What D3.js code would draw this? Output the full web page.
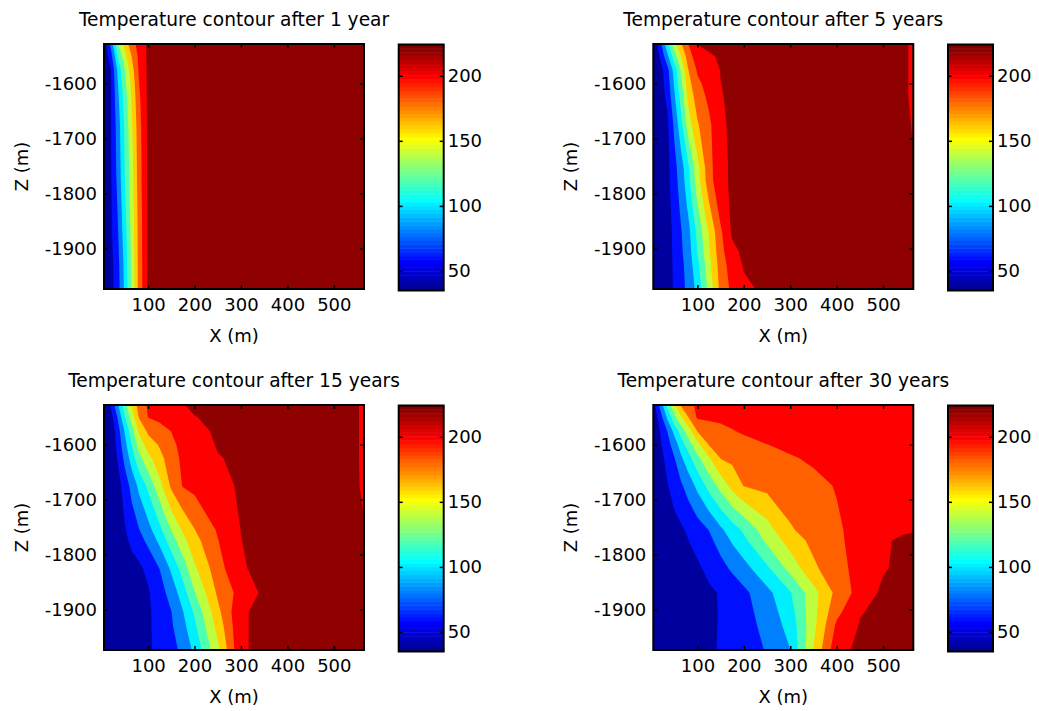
<!DOCTYPE html>
<html>
<head>
<meta charset="utf-8">
<script src="https://cdnjs.cloudflare.com/ajax/libs/d3/7.8.5/d3.min.js"></script>
<style>
  body { margin: 0; background: #fff; }
  svg { display: block; font-family: "DejaVu Sans", sans-serif; }
</style>
</head>
<body>
<div id="wrapper"></div>
<script>
// grid nodes (m)
const xNodes = [5, 20, 35, 50, 65, 80, 100, 125, 150, 175, 200, 250, 300, 350, 400, 450, 500, 540, 565]
const zNodes = [-1528, -1550, -1576, -1600, -1625, -1675, -1755, -1775, -1825, -1870, -1905, -1930, -1974]

const levels = [40, 60, 80, 100, 120, 140, 160, 180, 200, 220]
const cRange = [35, 224]

// temperature rows, top to bottom
const temp1 = [
  [48, 86, 139, 168, 193, 206, 224, 224, 224, 224, 224, 224, 224, 224, 224, 224, 224, 224, 224],
  [46, 72, 122, 154, 181, 204, 224, 224, 224, 224, 224, 224, 224, 224, 224, 224, 224, 224, 224],
  [45, 59.5, 105, 140, 172, 202, 224, 224, 224, 224, 224, 224, 224, 224, 224, 224, 224, 224, 224],
  [45, 59.5, 100, 135, 166, 199, 224, 224, 224, 224, 224, 224, 224, 224, 224, 224, 224, 224, 224],
  [45, 59.5, 96, 130, 163, 196, 224, 224, 224, 224, 224, 224, 224, 224, 224, 224, 224, 224, 224],
  [45, 59.5, 90, 124, 158, 192, 224, 224, 224, 224, 224, 224, 224, 224, 224, 224, 224, 224, 224],
  [45, 58.5, 87, 121, 153, 190, 224, 224, 224, 224, 224, 224, 224, 224, 224, 224, 224, 224, 224],
  [45, 58, 86, 120, 152, 190, 224, 224, 224, 224, 224, 224, 224, 224, 224, 224, 224, 224, 224],
  [45, 57, 82, 116, 150, 188, 224, 224, 224, 224, 224, 224, 224, 224, 224, 224, 224, 224, 224],
  [45, 56, 79, 112, 148, 187, 224, 224, 224, 224, 224, 224, 224, 224, 224, 224, 224, 224, 224],
  [45, 55, 76, 109, 146, 187, 224, 224, 224, 224, 224, 224, 224, 224, 224, 224, 224, 224, 224],
  [45, 54, 74, 107, 145, 186, 224, 224, 224, 224, 224, 224, 224, 224, 224, 224, 224, 224, 224],
  [45, 53, 72, 105, 144, 186, 224, 224, 224, 224, 224, 224, 224, 224, 224, 224, 224, 224, 224]
]

const temp5 = [
  [42, 73.6, 113.7, 151.8, 178.4, 199.4, 220.5, 224, 224, 224, 224, 224, 224, 224, 224, 224, 224, 224, 217],
  [42, 63, 94, 131, 161, 190, 212, 218, 222, 224, 224, 224, 224, 224, 224, 224, 224, 224, 217],
  [42, 52, 72.2, 107.8, 142.4, 178.9, 202.4, 211.2, 220.5, 224, 224, 224, 224, 224, 224, 224, 224, 224, 217],
  [42, 51, 68, 102, 135, 172, 196, 207, 219.8, 224, 224, 224, 224, 224, 224, 224, 224, 224, 217],
  [42, 50, 64, 96, 128, 164, 190, 204, 218.5, 224, 224, 224, 224, 224, 224, 224, 224, 224, 217],
  [42, 48, 55.7, 83.7, 114.3, 149.2, 177.7, 196.1, 216, 224, 224, 224, 224, 224, 224, 224, 224, 224, 219],
  [42, 46.5, 53.5, 73, 91, 115, 153, 193, 214.5, 223, 224, 224, 224, 224, 224, 224, 224, 224, 221],
  [42, 46, 53, 71.8, 89.7, 113, 151.5, 192.2, 214.5, 223.2, 224, 224, 224, 224, 224, 224, 224, 224, 222],
  [42, 45.5, 52, 68, 84, 103, 138, 177, 208, 224, 224, 224, 224, 224, 224, 224, 224, 224, 224],
  [42, 45, 51, 64.6, 79, 93, 125.1, 162.2, 196.9, 223, 224, 224, 224, 224, 224, 224, 224, 224, 224],
  [42, 45, 51, 63.8, 77, 90.5, 120.5, 158, 193.4, 215.6, 223.6, 224, 224, 224, 224, 224, 224, 224, 224],
  [42, 44.5, 50.5, 63, 75, 88, 114.3, 153.3, 190, 209.6, 221.8, 224, 224, 224, 224, 224, 224, 224, 224],
  [42, 44, 50, 62.5, 73.4, 85.2, 106.2, 147.1, 186.1, 204.9, 216, 224, 224, 224, 224, 224, 224, 224, 224]
]

const temp15 = [
  [42, 63.9, 97.5, 132.8, 160.8, 189.1, 202.3, 207.8, 213.4, 219, 224, 224, 224, 224, 224, 224, 224, 224, 217],
  [42, 52.7, 83, 119.3, 150, 181.1, 200.6, 205.3, 210, 214.7, 219.4, 224, 224, 224, 224, 224, 224, 224, 217],
  [42, 44, 71.7, 102.1, 132.4, 162.1, 183.8, 192.1, 200.3, 206.2, 212.1, 224, 224, 224, 224, 224, 224, 224, 217],
  [42, 44.9, 66.9, 93.9, 121, 147.7, 169, 182.5, 196.2, 205, 210.4, 221.5, 224, 224, 224, 224, 224, 224, 217],
  [42, 46, 62.1, 85.7, 109.6, 133.3, 154.2, 173, 192, 203.8, 208.8, 218.9, 223.3, 224, 224, 224, 224, 224, 217],
  [42, 48, 52.5, 69.3, 86.8, 104.5, 124.5, 153.9, 183.8, 201.3, 205.4, 213.8, 222.5, 224, 224, 224, 224, 224, 217.5],
  [42, 45.9, 49.1, 58.5, 68.9, 78.8, 93, 115, 141.4, 163.2, 179.5, 202.2, 220.4, 224, 224, 224, 224, 224, 221],
  [42, 45.3, 48.2, 55.8, 64.3, 72.2, 84.8, 105, 130.5, 153.4, 172.9, 199.2, 219.8, 224, 224, 224, 224, 224, 222],
  [42, 44, 46, 49, 53, 56, 65, 80.6, 103.8, 129.5, 156.6, 191.9, 218.5, 224, 224, 224, 224, 224, 224],
  [42, 43.5, 45, 47, 50, 53, 58, 71.6, 87.8, 110.8, 138.6, 183.5, 207.6, 224, 224, 224, 224, 224, 224],
  [42, 43.5, 45, 47, 50, 53, 57, 68, 79.5, 99.1, 122.6, 174.3, 218, 224, 224, 224, 224, 224, 224],
  [42, 43.5, 45, 47, 50, 53, 57, 67.2, 77.5, 93.9, 116.3, 167.3, 218, 224, 224, 224, 224, 224, 224],
  [42, 43.5, 45, 47, 50, 53, 57, 65.6, 73.8, 84.8, 105, 154.8, 218, 224, 224, 224, 224, 224, 224]
]

const temp30 = [
  [52, 85.8, 126.3, 156.9, 182.6, 197.5, 201.5, 203, 204.5, 206, 207, 209, 210, 211, 212, 213, 214, 215, 215],
  [45, 71.1, 103, 133.4, 158.4, 179.4, 203, 205, 206, 207, 208, 209.5, 211, 212, 213, 214, 215, 216, 216],
  [42, 60.8, 79.7, 105.6, 128.6, 149.4, 180.4, 186.5, 192.5, 198.6, 203, 206, 208, 210, 211, 212.5, 214, 215, 215.5],
  [44, 57.6, 71.9, 89, 110, 130, 154.1, 181.1, 184.8, 188.6, 192.4, 199.8, 204, 207, 209, 211, 213, 214, 214.5],
  [44, 53.2, 65.9, 78.6, 97, 111.6, 133.9, 158.1, 180.6, 184.3, 186.8, 192.4, 198.4, 202.5, 205.5, 208, 210, 212, 212.5],
  [44, 50, 58.6, 67.9, 77.2, 88.3, 104.9, 126.9, 146.9, 166.8, 180.8, 185.7, 190.6, 195.5, 201, 205, 208, 210, 211],
  [42, 45, 49, 53.5, 57.5, 62.4, 70.4, 80.6, 96.3, 110.5, 123.6, 152.1, 178, 188.4, 197.6, 206, 212, 216, 219],
  [42, 44.5, 48, 52, 56, 59.5, 65.9, 75.3, 87.5, 102.4, 115.1, 144.2, 168.6, 185.6, 196.6, 206.7, 216.4, 224, 224],
  [42, 44, 46.5, 49, 51.5, 54, 57, 64.5, 73.8, 83.1, 92.4, 116.5, 147.1, 176.2, 193.4, 206.6, 218.3, 224, 224],
  [42, 43.5, 45, 47, 49, 51, 54, 57, 61.4, 68.4, 75.4, 94.2, 118.5, 152.8, 185.8, 207.8, 224, 224, 224],
  [42, 43.5, 45, 47, 49, 51, 54, 57, 60.9, 67.1, 73.3, 88.7, 112.1, 153.7, 194.4, 219, 224, 224, 224],
  [42, 43.5, 45, 47, 49, 51, 54, 57, 61.1, 66.7, 72.3, 85.7, 107.4, 154.3, 203.8, 221.2, 224, 224, 224],
  [42, 43.5, 45, 47, 49, 51, 54, 57, 61.6, 66.4, 71.2, 81.4, 99.7, 161.2, 214, 224, 224, 224, 224]
]

const titles = [
  "Temperature contour after 1 year",
  "Temperature contour after 5 years",
  "Temperature contour after 15 years",
  "Temperature contour after 30 years"
]
const xTicks = [100, 200, 300, 400, 500]
const zTicks = [-1600, -1700, -1800, -1900]
const cTicks = [50, 100, 150, 200]

function drawContours() {
  const dms = {
    width: 1039,
    height: 711,
    plotW: 260,
    plotH: 245,
    cbGap: 294.7,
    cbW: 45,
    fontSize: 18,
    titleSize: 18.6,
  }

  const panels = [
    { data: temp1, title: titles[0], left: 104, top: 44 },
    { data: temp5, title: titles[1], left: 653.3, top: 44 },
    { data: temp15, title: titles[2], left: 104, top: 405 },
    { data: temp30, title: titles[3], left: 653.3, top: 405 },
  ]

  // matlab jet(64)
  const clamp01 = v => Math.max(0, Math.min(1, v))
  const jet = t => d3.rgb(
    255 * clamp01(1.5 - Math.abs(4 * t - 3)),
    255 * clamp01(1.5 - Math.abs(4 * t - 2)),
    255 * clamp01(1.5 - Math.abs(4 * t - 1))
  )
  const levelColor = v => {
    const k = Math.max(1, Math.min(64,
      Math.floor((v - cRange[0]) / (cRange[1] - cRange[0]) * 64) + 1))
    return jet(k / 64)
  }

  const n = xNodes.length
  const m = zNodes.length
  const xIdx = d3.scaleLinear().domain(d3.range(n)).range(xNodes)
  const zIdx = d3.scaleLinear().domain(d3.range(m)).range(zNodes)

  const xScale = d3.scaleLinear().domain([5, 565]).range([0, dms.plotW])
  const yScale = d3.scaleLinear().domain([-1974, -1528]).range([dms.plotH, 0])
  const cScale = d3.scaleLinear().domain(cRange).range([dms.plotH + 1, 0])

  const contourGen = d3.contours().size([n, m]).thresholds(levels)

  const proj = d3.geoTransform({
    point(gx, gy) {
      const ix = Math.max(0, Math.min(n - 1, gx - 0.5))
      const iz = Math.max(0, Math.min(m - 1, gy - 0.5))
      this.stream.point(xScale(xIdx(ix)), yScale(zIdx(iz)))
    }
  })
  const path = d3.geoPath(proj)

  const wrapper = d3.select("#wrapper")
    .append("svg")
    .attr("width", dms.width)
    .attr("height", dms.height)

  wrapper.append("rect")
    .attr("width", dms.width)
    .attr("height", dms.height)
    .attr("fill", "#fff")

  const styleAxis = a => {
    a.select(".domain").remove()
    a.attr("font-family", null).attr("font-size", dms.fontSize)
    a.selectAll("line").attr("stroke-width", 1.5)
    a.selectAll("text").attr("fill", "#000")
  }

  panels.forEach(p => {
    const bounds = wrapper.append("g")
      .attr("transform", `translate(${p.left},${p.top})`)

    const contours = contourGen(p.data.flat())

    bounds.append("g")
      .selectAll("path")
      .data(contours)
      .join("path")
      .attr("d", path)
      .attr("fill", d => levelColor(d.value))

    bounds.append("g")
      .attr("transform", `translate(0,${dms.plotH})`)
      .call(d3.axisBottom(xScale).tickValues(xTicks).tickSizeInner(-4).tickSizeOuter(0)
        .tickPadding(9.5).tickFormat(d => String(d)))
      .call(styleAxis)

    bounds.append("g")
      .call(d3.axisTop(xScale).tickValues(xTicks).tickSizeInner(-4).tickSizeOuter(0).tickFormat(""))
      .call(styleAxis)

    bounds.append("g")
      .call(d3.axisLeft(yScale).tickValues(zTicks).tickSizeInner(-4).tickSizeOuter(0)
        .tickPadding(7).tickFormat(d => String(d)))
      .call(styleAxis)

    bounds.append("g")
      .attr("transform", `translate(${dms.plotW},0)`)
      .call(d3.axisRight(yScale).tickValues(zTicks).tickSizeInner(-4).tickSizeOuter(0).tickFormat(""))
      .call(styleAxis)

    bounds.append("rect")
      .attr("width", dms.plotW)
      .attr("height", dms.plotH)
      .attr("fill", "none")
      .attr("stroke", "#000")
      .attr("stroke-width", 2)

    bounds.append("text")
      .attr("x", dms.plotW / 2)
      .attr("y", -18)
      .attr("text-anchor", "middle")
      .attr("font-size", dms.titleSize)
      .text(p.title)

    bounds.append("text")
      .attr("x", dms.plotW / 2)
      .attr("y", dms.plotH + 52.5)
      .attr("text-anchor", "middle")
      .attr("font-size", dms.fontSize)
      .text("X (m)")

    bounds.append("text")
      .attr("transform", `translate(-76.5,${dms.plotH / 2}) rotate(-90)`)
      .attr("text-anchor", "middle")
      .attr("font-size", dms.fontSize)
      .text("Z (m)")

    // colorbar
    const cb = bounds.append("g")
      .attr("transform", `translate(${dms.cbGap},0.5)`)
    const step = (cRange[1] - cRange[0]) / 64

    cb.selectAll("rect.step")
      .data(d3.range(64))
      .join("rect")
      .attr("class", "step")
      .attr("x", 0)
      .attr("width", dms.cbW)
      .attr("y", k => cScale(cRange[0] + (k + 1) * step))
      .attr("height", k => cScale(cRange[0] + k * step) - cScale(cRange[0] + (k + 1) * step) + 0.5)
      .attr("fill", k => jet((k + 1) / 64))

    cb.append("g")
      .attr("transform", `translate(${dms.cbW},0)`)
      .call(d3.axisRight(cScale).tickValues(cTicks).tickSizeInner(-4).tickSizeOuter(0)
        .tickPadding(4).tickFormat(d => String(d)))
      .call(styleAxis)

    cb.append("g")
      .call(d3.axisLeft(cScale).tickValues(cTicks).tickSizeInner(-4).tickSizeOuter(0).tickFormat(""))
      .call(styleAxis)

    cb.append("rect")
      .attr("width", dms.cbW)
      .attr("height", dms.plotH + 1)
      .attr("fill", "none")
      .attr("stroke", "#000")
      .attr("stroke-width", 2)
  })
}

drawContours()
</script>
</body>
</html>
